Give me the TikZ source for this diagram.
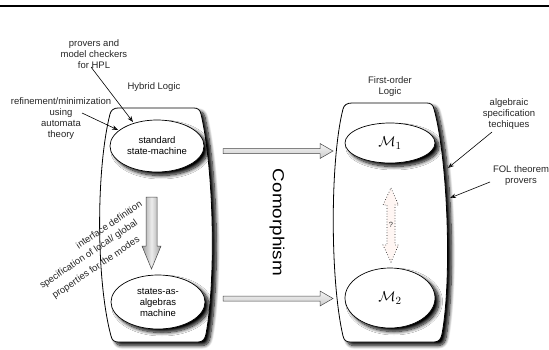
\documentclass[tikz,border=0pt]{standalone}
\usepackage{fontspec}
\setmainfont{Liberation Sans}
\usetikzlibrary{shapes.geometric,arrows.meta,shadows.blur}
\definecolor{palepink}{RGB}{255,246,243}
\begin{document}
\begin{tikzpicture}[x=1pt,y=1pt,
  lbl/.style={font=\fontsize{9.5}{11}\selectfont, align=center, inner sep=0pt, text=black!85},
  ptr/.style={-{Stealth[length=6pt,width=4.5pt]}, line width=0.6pt},
  softshadow/.style={blur shadow={shadow xshift=4pt, shadow yshift=-3.5pt, shadow blur radius=3.5pt, shadow opacity=100, shadow blur steps=10}},
  logicbox/.style={draw=black, line width=0.8pt, fill=white, softshadow},
  state/.style={ellipse, draw=black, line width=0.7pt, fill=white, inner sep=0pt, align=center,
    font=\fontsize{9.5}{11}\selectfont, softshadow},
  blockv/.style={draw=gray!55!black, line width=0.5pt, left color=gray!75, right color=gray!75, middle color=gray!15},
  blockh/.style={draw=gray!55!black, line width=0.5pt, top color=gray!8, bottom color=gray!40},
]
\useasboundingbox (0,0) rectangle (549,349);

% top rule
\coordinate (ruleL) at (0,343);
\coordinate (ruleR) at (549,343);
\draw[line width=1.1pt] (ruleL) -- (ruleR);

% containers
\path[logicbox] (118,241) -- (194,241) .. controls (198,241) and (200,239) .. (201,235)
  .. controls (214,179) and (216,69) .. (206,15) .. controls (205,10) and (203,7) .. (198,7)
  -- (118,7) .. controls (114,7) and (112,9) .. (111,13)
  .. controls (96,69) and (96,179) .. (110,235) .. controls (111,239) and (114,241) .. (118,241) -- cycle;
\path[logicbox] (352,246) -- (427,246) .. controls (431,246) and (433,244) .. (434,240)
  .. controls (448,189) and (452,69) .. (442,15) .. controls (441,10) and (439,7) .. (434,7)
  -- (350,7) .. controls (346,7) and (344,9) .. (343,13)
  .. controls (330,69) and (330,189) .. (343,240) .. controls (344,244) and (347,246) .. (352,246) -- cycle;

% ellipses
\node[state, minimum width=94pt, minimum height=52pt] (sm) at (157,203) {standard\\state-machine};
\node[state, minimum width=94pt, minimum height=54pt] (sa) at (158,47) {states-as-\\algebras\\machine};
\node[state, minimum width=90pt, minimum height=40pt, font=\fontsize{15}{18}\selectfont] (m1) at (390,206) {$\mathcal{M}_1$};
\node[state, minimum width=90pt, minimum height=60pt, font=\fontsize{15}{18}\selectfont] (m2) at (390,51) {$\mathcal{M}_2$};

% grey down arrow
\path[blockv] (146,152) -- (157,152) -- (157,103) -- (161,103) -- (151.5,80) -- (142,103) -- (146,103) -- cycle;

% horizontal block arrows
\path[blockh] (223,200.5) -- (320,200.5) -- (320,205.5) -- (333,198) -- (320,190.5) -- (320,195.5) -- (223,195.5) -- cycle;
\path[blockh] (223,53) -- (320,53) -- (320,58) -- (333,50.5) -- (320,43) -- (320,48) -- (223,48) -- cycle;

% dotted double arrow
\draw[dotted, line width=0.7pt, draw=black!85, fill=palepink]
  (391,161) -- (398.5,144) -- (395,144) -- (395,104) -- (398.5,104) -- (391,87)
  -- (383,104) -- (387,104) -- (387,144) -- (383,144) -- cycle;
\node[font=\fontsize{7.5}{9}\selectfont, text=black!80, inner sep=0pt] (q) at (391,124) {?};

% Comorphism
\node[rotate=-90, inner sep=0pt] (como) at (277,126.5)
  {\scalebox{1.18}[1]{\fontsize{16}{19}\selectfont Comorphism}};

% labels
\node[lbl] (provers) at (94,295) {provers and\\model checkers\\for HPL};
\node[lbl] (refine) at (61,230.5) {refinement/minimization\\using\\automata\\theory};
\node[lbl] (hybrid) at (154,262) {Hybrid Logic};
\node[lbl] (fol) at (390,262.5) {First-order\\Logic};
\node[lbl] (alg) at (509,235) {algebraic\\specification\\techiques};
\node[lbl] (folp) at (521,173) {FOL theorem\\provers};

% rotated interface labels
\node[lbl, rotate=34, anchor=east] (if1) at (141,146) {interface definition};
\node[lbl, rotate=34, anchor=east] (if2) at (137,127) {specification of local/ global};
\node[lbl, rotate=34, anchor=east] (if3) at (139,110) {properties for the modes};

% pointer arrows
\coordinate (a1s) at (91,282); \coordinate (a1e) at (133,227);
\coordinate (a2s) at (82,236); \coordinate (a2e) at (118,219);
\coordinate (a3s) at (492,217); \coordinate (a3e) at (448,181);
\coordinate (a4s) at (490,167); \coordinate (a4e) at (450,151);
\draw[ptr] (a1s) -- (a1e);
\draw[ptr] (a2s) -- (a2e);
\draw[ptr] (a3s) -- (a3e);
\draw[ptr] (a4s) -- (a4e);
\end{tikzpicture}
\end{document}
